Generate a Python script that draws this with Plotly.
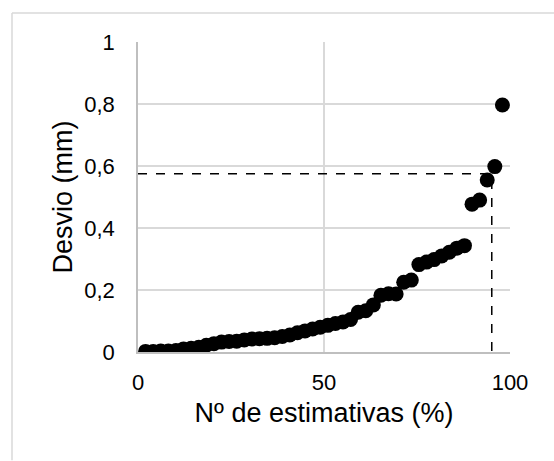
import plotly.graph_objects as go

# Data
x_pct = [k * 100 / 49 for k in range(1, 49)]
desvio = [0.002, 0.002, 0.003, 0.003, 0.005, 0.010, 0.012, 0.015, 0.022, 0.027,
          0.032, 0.034, 0.035, 0.039, 0.042, 0.043, 0.044, 0.046, 0.050, 0.055,
          0.062, 0.068, 0.074, 0.080, 0.086, 0.092, 0.097, 0.105, 0.128, 0.133,
          0.152, 0.183, 0.188, 0.187, 0.225, 0.232, 0.282, 0.290, 0.298, 0.310,
          0.322, 0.335, 0.343, 0.477, 0.490, 0.555, 0.598, 0.797]

ref_x = [0, 95.1, 95.1]
ref_y = [0.575, 0.575, 0]

FONT = "Liberation Sans, Arial, sans-serif"

fig = go.Figure()
fig.add_trace(go.Scatter(x=ref_x, y=ref_y, mode="lines",
                         line=dict(color="black", width=1.5, dash="dash"),
                         hoverinfo="skip", showlegend=False))
fig.add_trace(go.Scatter(x=x_pct, y=desvio, mode="markers",
                         marker=dict(color="black", size=15),
                         showlegend=False))

W, H = 554, 461
L, R, T, B = 138, 44, 42, 108.5
pw = W - L - R
ph = H - T - B

fig.update_layout(
    width=W, height=H,
    margin=dict(l=L, r=R, t=T, b=B, pad=0),
    paper_bgcolor="white", plot_bgcolor="white",
    separators=", ",
    font=dict(family=FONT, color="#000000", size=22),
    xaxis=dict(range=[0, 100], dtick=50, tick0=0,
               showgrid=True, gridcolor="#d9d9d9", gridwidth=1.5,
               showline=True, linecolor="#bfbfbf", linewidth=1.5,
               zeroline=False, mirror=False,
               ticks="outside", ticklen=10, tickcolor="rgba(0,0,0,0)",
               tickfont=dict(size=22, color="#000000"),
               title=dict(text="Nº de estimativas (%)", font=dict(size=27), standoff=9)),
    yaxis=dict(range=[0, 1], dtick=0.2, tick0=0,
               showgrid=True, gridcolor="#d9d9d9", gridwidth=1.5,
               showline=True, linecolor="#bfbfbf", linewidth=1.5,
               zeroline=False,
               ticks="outside", ticklen=17, tickcolor="rgba(0,0,0,0)",
               tickfont=dict(size=22, color="#000000"),
               title=dict(text="Desvio (mm)", font=dict(size=27), standoff=4)),
)

# outer chart border (left & top visible)
xl = (12 - L) / pw
yt = (H - B - 13) / ph
yb = (H - B - H) / ph
xr = (W - L) / pw
fig.add_shape(type="line", xref="paper", yref="paper", x0=xl, x1=xl, y0=yb, y1=yt,
              line=dict(color="#d9d9d9", width=1.5))
fig.add_shape(type="line", xref="paper", yref="paper", x0=xl, x1=xr, y0=yt, y1=yt,
              line=dict(color="#d9d9d9", width=1.5))

fig.write_html("out.html")
